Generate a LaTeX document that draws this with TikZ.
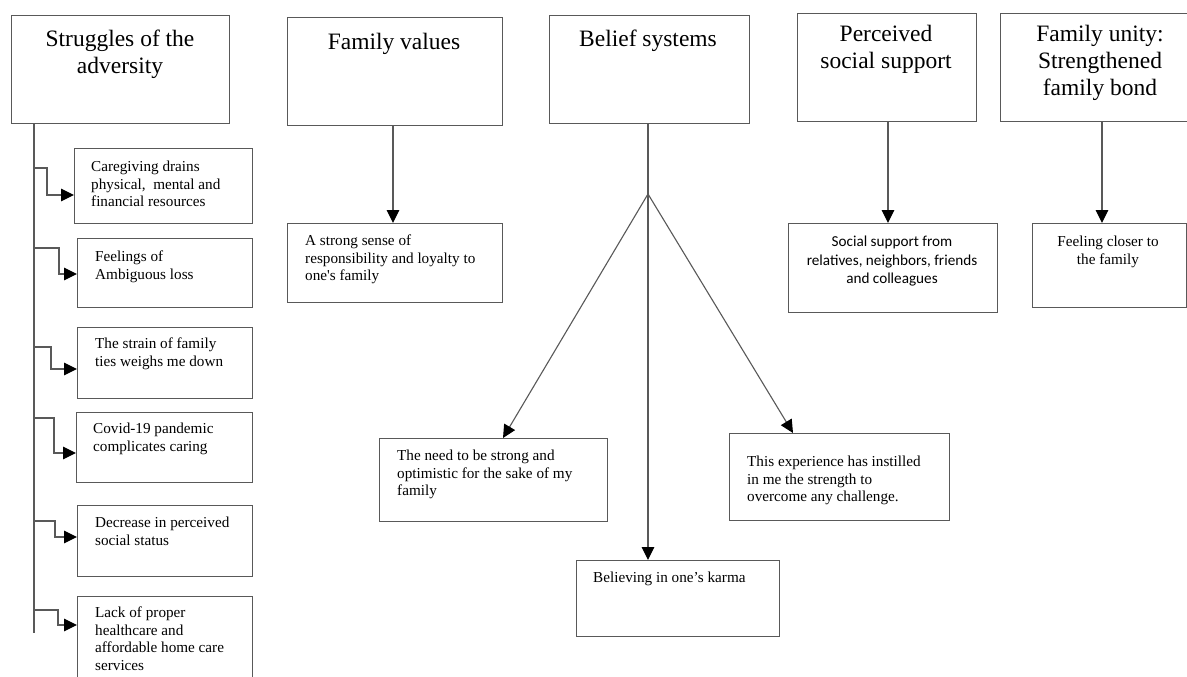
\documentclass[tikz,border=0pt]{standalone}
\usepackage{fontspec}
\setmainfont{Liberation Serif}
\newfontfamily\sansfont{Carlito}
\usetikzlibrary{arrows.meta}
\tikzset{
  bx/.style={draw=black!65, line width=1.1pt, inner sep=0pt, anchor=north west},
  txt/.style={anchor=north west, inner sep=0pt, align=left, font=\fontsize{15.2}{17.5}\selectfont},
  ctxt/.style={anchor=north, inner sep=0pt, align=center, font=\fontsize{15.2}{17.5}\selectfont},
  stxt/.style={anchor=north, inner sep=0pt, align=center, font=\sansfont\fontsize{15.2}{18.5}\selectfont},
  ttl/.style={anchor=north, inner sep=0pt, align=center, font=\fontsize{23.5}{27}\selectfont},
  ln/.style={draw=black!65, line width=1.1pt},
  arr/.style={ln, -{Triangle[length=13pt,width=12.5pt,color=black,fill=black]}}
}
\begin{document}
\begin{tikzpicture}[x=1pt,y=-1pt]
\useasboundingbox (0,0) rectangle (1187,677);
\clip (0,0) rectangle (1187,677);
\fill[white] (0,0) rectangle (1187,677);

% Struggles column
\node[bx, minimum width=218pt, minimum height=108pt] (sa) at (11,15) {};
\node[ttl] (sat) at (120,30) {Struggles of the\\adversity};
\node[bx, minimum width=178pt, minimum height=75pt] (c1) at (74,148) {};
\node[txt] (c1t) at (91,161) {Caregiving drains\\physical,\ \ mental and\\financial resources};
\node[bx, minimum width=175pt, minimum height=69pt] (c2) at (77,238) {};
\node[txt] (c2t) at (95,251) {Feelings of\\Ambiguous loss};
\node[bx, minimum width=175pt, minimum height=71pt] (c3) at (77,327) {};
\node[txt] (c3t) at (95,338) {The strain of family\\ties weighs me down};
\node[bx, minimum width=176pt, minimum height=70pt] (c4) at (76,412) {};
\node[txt] (c4t) at (93,423) {Covid-19 pandemic\\complicates caring};
\node[bx, minimum width=175pt, minimum height=71pt] (c5) at (77,505) {};
\node[txt] (c5t) at (95,517) {Decrease in perceived\\social status};
\node[bx, minimum width=175pt, minimum height=104pt] (c6) at (77,596) {};
\node[txt] (c6t) at (95,607) {Lack of proper\\healthcare and\\affordable home care\\services};

\coordinate (tr) at (34,633);
\draw[ln] (sa.south west -| tr) -- (tr);
\coordinate (s1) at (34,168); \coordinate (e1) at (47,195);
\coordinate (s2) at (34,248); \coordinate (e2) at (59,274);
\coordinate (s3) at (34,347); \coordinate (e3) at (51,369);
\coordinate (s4) at (34,418); \coordinate (e4) at (54,453);
\coordinate (s5) at (34,521); \coordinate (e5) at (55,537);
\coordinate (s6) at (34,610); \coordinate (e6) at (58,625);
\foreach \i in {1,...,6}{
  \draw[arr] (s\i) -| (e\i) -- (e\i -| c\i.west);
}

% Family values
\node[bx, minimum width=215pt, minimum height=108pt] (fv) at (287,17) {};
\node[ttl] (fvt) at (394,33) {Family values};
\node[bx, minimum width=215pt, minimum height=79pt] (fvs) at (287,223) {};
\node[txt] (fvst) at (305,235) {A strong sense of\\responsibility and loyalty to\\one\textquotesingle s family};
\coordinate (fva) at (393,0);
\draw[arr] (fv.south -| fva) -- (fvs.north -| fva);

% Belief systems
\node[bx, minimum width=200pt, minimum height=108pt] (bs) at (549,15) {};
\node[ttl] (bst) at (648,30) {Belief systems};
\node[bx, minimum width=228pt, minimum height=83pt] (need) at (379,438) {};
\node[txt] (needt) at (397,450) {The need to be strong and\\optimistic for the sake of my\\family};
\node[bx, minimum width=203pt, minimum height=76pt] (karma) at (576,560) {};
\node[txt] (karmat) at (593,572) {Believing in one’s karma};
\node[bx, minimum width=220pt, minimum height=87pt] (exp) at (729,433) {};
\node[txt] (expt) at (747,456) {This experience has instilled\\in me the strength to\\overcome any challenge.};
\coordinate (bp) at (648,194);
\coordinate (nt) at (503,0);
\coordinate (et) at (793,0);
\draw[ln] (bs.south -| bp) -- (bp);
\draw[arr] (bp) -- (need.north -| nt);
\draw[arr] (bp) -- (karma.north -| bp);
\draw[arr] (bp) -- (exp.north -| et);

% Perceived social support
\node[bx, minimum width=179pt, minimum height=108pt] (ps) at (797,13) {};
\node[ttl] (pst) at (886,25) {Perceived\\social support};
\node[bx, minimum width=209pt, minimum height=89pt] (pss) at (788,223) {};
\node[stxt] (psst) at (892,236) {Social support from\\relatives, neighbors, friends\\and colleagues};
\coordinate (psa) at (888,0);
\draw[arr] (ps.south -| psa) -- (pss.north -| psa);

% Family unity
\node[bx, minimum width=204pt, minimum height=108pt] (fu) at (1000,13) {};
\node[ttl] (fut) at (1100,25) {Family unity:\\Strengthened\\family bond};
\node[bx, minimum width=154pt, minimum height=84pt] (fus) at (1032,223) {};
\node[ctxt] (fust) at (1108,236) {Feeling closer to\\the family};
\coordinate (fua) at (1102,0);
\draw[arr] (fu.south -| fua) -- (fus.north -| fua);
\end{tikzpicture}
\end{document}
